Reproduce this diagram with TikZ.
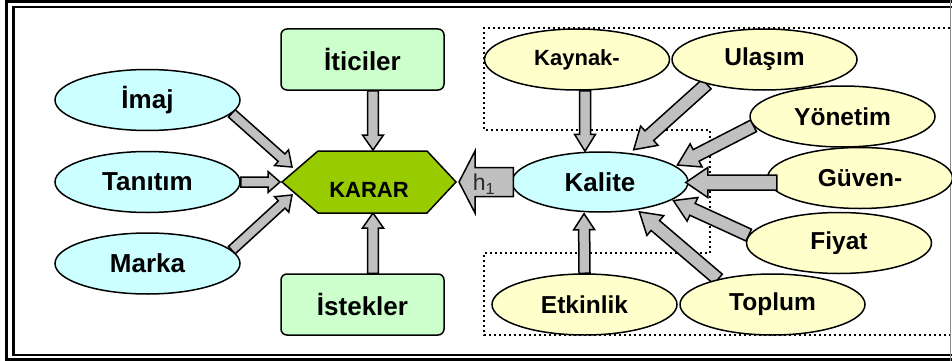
\documentclass[tikz,border=0pt]{standalone}
\usepackage{fontspec}
\setmainfont{Liberation Sans}
\usetikzlibrary{shapes.geometric,calc}
\pgfdeclarelayer{bg}
\pgfsetlayers{bg,main}
\definecolor{cyanlt}{HTML}{CCFFFF}
\definecolor{yellowlt}{HTML}{FFFFCC}
\definecolor{greenlt}{HTML}{CCFFCC}
\definecolor{kararfill}{HTML}{99CC00}
\definecolor{arrowgray}{HTML}{C0C0C0}
\definecolor{labelgray}{HTML}{2A2A2A}

% Block arrow: #1 from, #2 to, #3 shaft half-width, #4 head half-width,
% #5 head length, #6 gap left before the target
\newcommand{\blockarrow}[6]{%
  \coordinate (ba-t) at ($(#2)!#6!(#1)$);
  \coordinate (ba-h) at ($(ba-t)!#5!(#1)$);
  \draw[grayarrow] ($(#1)!#3!90:(ba-t)$) -- ($(ba-h)!#3!90:(ba-t)$)
    -- ($(ba-h)!#4!90:(ba-t)$) -- (ba-t) -- ($(ba-h)!#4!-90:(ba-t)$)
    -- ($(ba-h)!#3!-90:(ba-t)$) -- ($(#1)!#3!-90:(ba-t)$) -- cycle;
}

\tikzset{
  oval/.style={ellipse, draw, line width=1.5pt, inner sep=0pt,
    minimum width=185pt, minimum height=61pt},
  blueoval/.style={oval, fill=cyanlt, font=\bfseries\fontsize{26}{30}\selectfont},
  yellowoval/.style={oval, fill=yellowlt, font=\bfseries\fontsize{24.5}{29}\selectfont},
  greenbox/.style={rectangle, rounded corners=6pt, draw, line width=1.5pt,
    fill=greenlt, minimum width=163pt, minimum height=61pt, inner sep=0pt,
    font=\bfseries\fontsize{26}{30}\selectfont},
  grayarrow/.style={draw, line width=1.5pt, fill=arrowgray, line join=miter},
  dotline/.style={line width=2pt, dash pattern=on 2pt off 3pt},
}

\begin{document}
\begin{tikzpicture}[x=1pt,y=-1pt]
\useasboundingbox (0,0) rectangle (952,361);
\clip (0,0) rectangle (952,361);

% double frame
\draw[line width=2.6pt] (6.5,1.5) rectangle (965,359.5);
\draw[line width=2.2pt] (13.5,7) rectangle (965,355);
\draw[line width=0.8pt, black!45] (950.6,0) -- (950.6,361);

% left cluster
\node[blueoval] (imaj) at (147.5,100) {İmaj};
\node[blueoval] (tanitim) at (147.5,182) {Tanıtım};
\node[blueoval] (marka) at (147.5,263.5) {Marka};
\node[greenbox] (iticiler) at (362.5,59.5) {İticiler};
\node[greenbox] (istekler) at (362.5,304.5) {İstekler};

% decision hexagon
\node[minimum width=174pt, minimum height=62pt, inner sep=0pt, outer sep=0pt] (karar) at (369,182) {};
\draw[line width=1.5pt, fill=kararfill, line join=miter]
  (karar.west) -- ($(karar.north west)+(36,0)$) -- ($(karar.north east)+(-29,0)$)
  -- (karar.east) -- ($(karar.south east)+(-29,0)$) -- ($(karar.south west)+(36,0)$) -- cycle;
\node[font=\bfseries\fontsize{22}{26}\selectfont] (karartext) at ($(karar.center)+(0,8)$) {KARAR};

% quality cluster
\node[blueoval, minimum width=176pt, minimum height=60pt] (kalite) at (600,182) {Kalite};
\node[yellowoval, font=\bfseries\fontsize{22}{26}\selectfont] (kaynak) at (577,59.5) {Kaynak-};
\node[yellowoval] (ulasim) at (764.5,59.5) {Ulaşım};
\node[yellowoval] (yonetim) at (842.5,116.5) {Yönetim};
\node[yellowoval] (guven) at (860,178) {Güven-};
\node[yellowoval] (fiyat) at (839,243) {Fiyat};
\node[yellowoval] (etkinlik) at (584.5,304.5) {Etkinlik};
\node[yellowoval] (toplum) at (772.5,304.5) {Toplum};

% arrow end points
\coordinate (k-a) at ($(karar.west)+(10,-15)$);
\coordinate (k-c) at ($(karar.west)+(10,13)$);
\coordinate (k-n) at ($(karar.north)+(4,0)$);
\coordinate (k-s) at ($(karar.south)+(4,0)$);
\coordinate (it-o) at ($(iticiler.south)+(10.5,0)$);
\coordinate (is-o) at ($(istekler.north)+(10.5,0)$);
\coordinate (ky-o) at ($(kaynak.south)+(8,0)$);
\coordinate (ka-n) at ($(kalite.north)+(-15,0)$);
\coordinate (ka-s) at ($(kalite.south)+(-16,0)$);
\coordinate (gu-o) at ($(guven.west)+(10,4.5)$);
\coordinate (gu-t) at ($(kalite.east)+(-3,0.5)$);
\coordinate (h-o) at ($(kalite.west)+(2,0)$);

\begin{pgfonlayer}{bg}
  \draw[dotline] (965,28) -- (484,28) -- (484,130) -- (710,130) -- (710,253)
    -- (484,253) -- (484,335) -- (965,335);
  % into the decision
  \blockarrow{imaj.351}{k-a}{5pt}{10.5pt}{14pt}{0pt}
  \blockarrow{tanitim.east}{karar.west}{5pt}{10.5pt}{12pt}{2pt}
  \blockarrow{marka.9}{k-c}{5pt}{10.5pt}{14pt}{0pt}
  \blockarrow{it-o}{k-n}{5.3pt}{10.5pt}{15pt}{1pt}
  \blockarrow{is-o}{k-s}{5.3pt}{10.5pt}{15pt}{0pt}
  % into quality
  \blockarrow{ky-o}{ka-n}{5.5pt}{10.5pt}{17pt}{0pt}
  \blockarrow{ulasim.203}{kalite.44}{6.5pt}{13pt}{21pt}{5pt}
  \blockarrow{yonetim.186}{kalite.12}{6.5pt}{13pt}{21pt}{2pt}
  \blockarrow{fiyat.175}{kalite.346}{6.5pt}{13pt}{21pt}{1.5pt}
  \blockarrow{toplum.155}{kalite.323}{6.5pt}{13pt}{21pt}{3pt}
  \blockarrow{etkinlik.north}{ka-s}{5.5pt}{10.5pt}{16pt}{1pt}
\end{pgfonlayer}

\blockarrow{gu-o}{gu-t}{7.5pt}{15pt}{22pt}{0pt}
\blockarrow{h-o}{karar.east}{14.5pt}{31pt}{16pt}{3pt}
\node[text=labelgray, font=\fontsize{23}{27}\selectfont, inner sep=0pt] (h1) at (484,184) {h\textsubscript{1}};
\end{tikzpicture}
\end{document}
